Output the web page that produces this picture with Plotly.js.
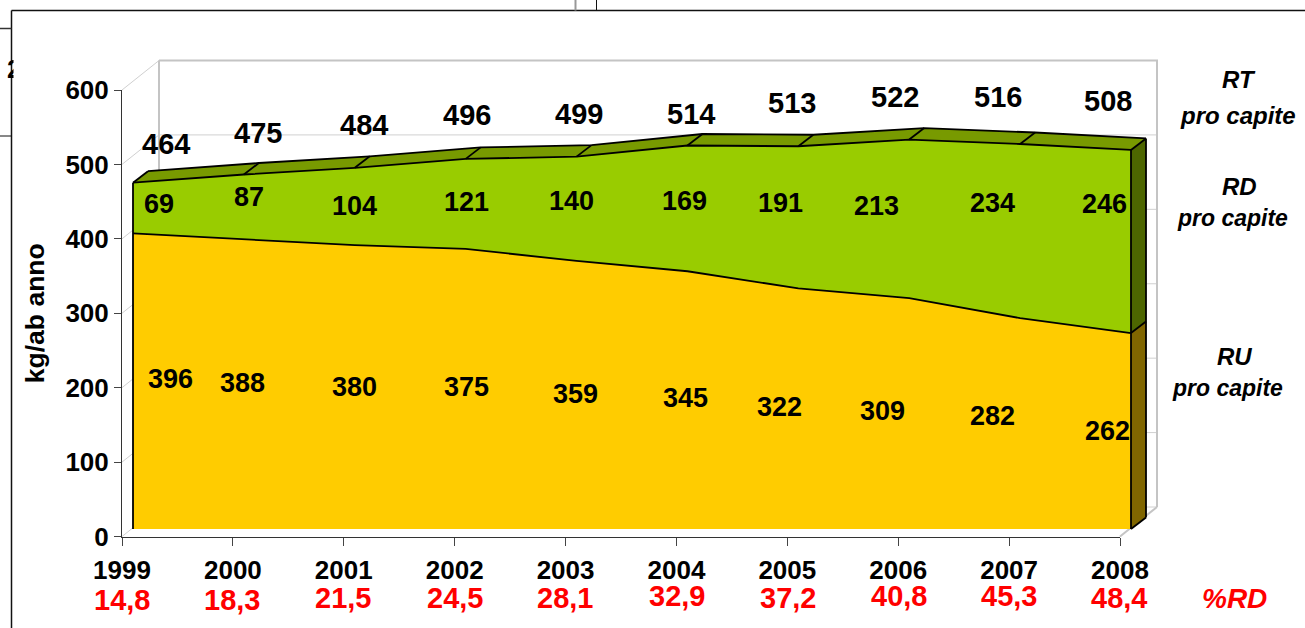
<!DOCTYPE html>
<html>
<head>
<meta charset="utf-8">
<script src="https://cdn.plot.ly/plotly-3.0.1.min.js"></script>
<style>html,body{margin:0;padding:0;background:#fff;overflow:hidden}</style>
</head>
<body>
<div id="chart" style="width:1305px;height:628px"></div>
<script>
const years = [1999,2000,2001,2002,2003,2004,2005,2006,2007,2008];
const rt = [464,475,484,496,499,514,513,522,516,508];
const rd = [69,87,104,121,140,169,191,213,234,246];
const ru = [396,388,380,375,359,345,322,309,282,262];
const pctRd = ['14,8','18,3','21,5','24,5','28,1','32,9','37,2','40,8','45,3','48,4'];
const yTicks = [0,100,200,300,400,500,600];
const seriesNotes = ['<b><i>RT</i></b>','<b><i>pro capite</i></b>','<b><i>RD</i></b>','<b><i>pro capite</i></b>','<b><i>RU</i></b>','<b><i>pro capite</i></b>'];

// label positions on the page (pixels)
const rtLabelX = [166,258,364,467,579,691,792,895,998,1108];
const rtLabelY = [144,133,125,115,114,114,103,97,97,101];
const rdLabelX = [159,249,354,466,571,685,781,877,993,1104];
const rdLabelY = [204,197,206,202,201,201,203,206,203,204];
const ruLabelX = [170,242,354,466,575,686,780,883,993,1107];
const ruLabelY = [379,383,387,387,394,398,407,411,416,431];
const pctLabelX = [122,232,343,455,565,677,788,899,1009,1119];
const pctLabelY = [600,600,598,598,598,596,598,596,596,598];

const W = 1305, H = 628, L = 122, Rx = 1120, T = 90, Bx = 536.5;
const pxPerYear = (Rx-L)/9, pxPerUnit = (Bx-T)/600;
const X = y => L + (y-1999)*pxPerYear;
const Y = v => T + (600-v)*pxPerUnit;
const dX = p => p/pxPerYear, dY = p => p/pxPerUnit;
const pxX = p => p/W, pxY = p => 1-p/H;

// 3D depth offsets: floor level, value level, wall
const fx = dX(11), fy = dY(7.5), bx = dX(26), by = dY(19), wx = dX(37), wy = dY(29.5);
const fv = dY(8.5), bv = dY(20);
const Yf = years.map(y=>y+fx), Yb = years.map(y=>y+bx);
const first = years[0], last = years[years.length-1], n = years.length-1;

const traces = [];
const add = t => traces.push(Object.assign({xaxis:'x2',yaxis:'y2',hoverinfo:'skip'},t));
// wall
const wallX=[], wallY=[];
yTicks.forEach(v=>{
  wallX.push(first, first+wx, last+wx, null);
  wallY.push(v, v+wy, v+wy, null);
});
add({x:wallX,y:wallY,mode:'lines',line:{color:'#d0d0d0',width:1}});
add({x:[first+wx,first+wx,null,first+wx,last+wx,last+wx,null,last,last+wx],
  y:[0+wy,600+wy,null,600+wy,600+wy,0+wy,null,0,0+wy],
  mode:'lines',line:{color:'#c4c4c4',width:2}});

function poly(xs,ys,color){
  add({x:xs.concat([xs[0]]),y:ys.concat([ys[0]]),mode:'none',fill:'toself',fillcolor:color});
}
// yellow front (RU)
poly(Yf.concat([last+fx,first+fx]), ru.map(v=>v+fv).concat([fy,fy]), '#FFCC00');
// green front (RD stacked on RU)
poly(Yf.concat(Yf.slice().reverse()), rt.map(v=>v+fv).concat(ru.map(v=>v+fv).reverse()), '#99CC00');
// top face
poly(Yf.concat(Yb.slice().reverse()), rt.map(v=>v+fv).concat(rt.map(v=>v+bv).reverse()), '#789A00');
// right side faces
poly([last+fx,last+fx,last+bx,last+bx],[fy,ru[n]+fv,ru[n]+bv,by],'#806600');
poly([last+fx,last+fx,last+bx,last+bx],[ru[n]+fv,rt[n]+fv,rt[n]+bv,ru[n]+bv],'#4D6600');

// outlines
const ox=[], oy=[];
const seg=(xs,ys)=>{xs.forEach(v=>ox.push(v)); ox.push(null); ys.forEach(v=>oy.push(v)); oy.push(null);};
seg(Yf, ru.map(v=>v+fv));
seg(Yf, rt.map(v=>v+fv));
seg(Yb, rt.map(v=>v+bv));
seg([first+fx,first+fx],[fy,rt[0]+fv]);
seg([last+fx,last+fx],[fy,rt[n]+fv]);
seg([last+bx,last+bx],[by,rt[n]+bv]);
seg([last+fx,last+bx],[fy,by]);
seg([last+fx,last+bx],[ru[n]+fv,ru[n]+bv]);
years.forEach((y,i)=>seg([y+fx,y+bx],[rt[i]+fv,rt[i]+bv]));
add({x:ox,y:oy,mode:'lines',line:{color:'#000',width:1.8}});

const F = 'Liberation Sans, Arial, sans-serif';
const ann = [];
function valueLabels(vals, base, lx, ly, size){
  vals.forEach((v,i)=>{
    ann.push({x:years[i],y:base[i],xref:'x',yref:'y',text:'<b>'+v+'</b>',showarrow:false,
      xanchor:'center',yanchor:'middle',
      xshift:lx[i]-X(years[i]),yshift:Y(base[i])-ly[i],
      font:{family:F,size:size,color:'#000'}});
  });
}
valueLabels(rt,rt,rtLabelX,rtLabelY,29);
valueLabels(rd,rt,rdLabelX,rdLabelY,27);
valueLabels(ru,ru,ruLabelX,ruLabelY,27);
pctRd.forEach((t,i)=>{
  ann.push({x:pxX(pctLabelX[i]),y:pxY(pctLabelY[i]),xref:'paper',yref:'paper',text:'<b>'+t+'</b>',showarrow:false,
    xanchor:'center',yanchor:'middle',font:{family:F,size:29,color:'#FF0000'}});
});
ann.push({x:pxX(1234),y:pxY(598),xref:'paper',yref:'paper',text:'<b><i>%RD</i></b>',showarrow:false,
  xanchor:'center',yanchor:'middle',font:{family:F,size:28,color:'#FF0000'}});
const notePos = [[1239,80,24],[1238,116,24],[1239,186,24],[1232,218,23],[1234,356,24],[1227,388,23]];
seriesNotes.forEach((t,i)=>{
  const p = notePos[i];
  ann.push({x:pxX(p[0]),y:pxY(p[1]),xref:'paper',yref:'paper',text:t,showarrow:false,
    xanchor:'center',yanchor:'middle',font:{family:F,size:p[2],color:'#000'}});
});
// cut-off "2" at the left edge of the frame, then its masking box
ann.push({x:pxX(14),y:pxY(69),xref:'paper',yref:'paper',text:'<b>2</b>',showarrow:false,xanchor:'center',yanchor:'middle',font:{family:F,size:26,color:'#000'}});
ann.push({x:pxX(12.5),y:pxY(69),xref:'paper',yref:'paper',text:' ',showarrow:false,xanchor:'left',yanchor:'middle',width:20,height:36,bgcolor:'#fff',borderpad:0,font:{size:10}});

const line=(x0,y0,x1,y1,color,w)=>({type:'line',xref:'paper',yref:'paper',x0:pxX(x0),y0:pxY(y0),x1:pxX(x1),y1:pxY(y1),line:{color:color,width:w}});
const shapes=[
  line(11.5,10.5,1305,10.5,'#111',1.5),
  line(11.5,10.5,11.5,628,'#111',1.5),
  line(0,28.5,11.5,28.5,'#333',1.5),
  line(0,136,11.5,136,'#111',1),
  line(575.5,0,575.5,10.5,'#999',2),
  line(596.5,0,596.5,10.5,'#111',1)
];

Plotly.newPlot('chart',traces,{
  width:W,height:H,showlegend:false,
  paper_bgcolor:'#fff',plot_bgcolor:'rgba(0,0,0,0)',
  margin:{l:0,r:0,t:0,b:0,pad:0},
  hovermode:false,
  xaxis:{domain:[L/W,Rx/W],anchor:'y',range:[first,last],tickvals:years,ticktext:years.map(String),showgrid:false,zeroline:false,
    showline:true,linecolor:'#333',linewidth:1.5,ticks:'outside',ticklen:8,tickwidth:1,tickcolor:'#444',
    tickangle:0,ticklabelstandoff:2,tickfont:{family:F,size:26,color:'#000',weight:'bold'}},
  yaxis:{domain:[1-Bx/H,1-T/H],anchor:'x',range:[0,600],tickvals:yTicks,ticktext:yTicks.map(String),showgrid:false,zeroline:false,
    showline:true,linecolor:'#333',linewidth:1,ticks:'outside',ticklen:7,tickwidth:1,tickcolor:'#444',
    ticklabelstandoff:0,tickfont:{family:F,size:26,color:'#000',weight:'bold'},
    title:{text:'<b>kg/ab anno</b>',standoff:13,font:{family:F,size:26.5,color:'#000'}}},
  // full-page companion axes on the same scale, so the 3D depth faces can leave the front plane
  xaxis2:{domain:[0,1],anchor:'y2',range:[first+(0-L)/pxPerYear,first+(W-L)/pxPerYear],visible:false,fixedrange:true},
  yaxis2:{domain:[0,1],anchor:'x2',range:[(Bx-H)/pxPerUnit,Bx/pxPerUnit],visible:false,fixedrange:true},
  annotations:ann,shapes:shapes
},{displayModeBar:false,staticPlot:true});
</script>
</body>
</html>
